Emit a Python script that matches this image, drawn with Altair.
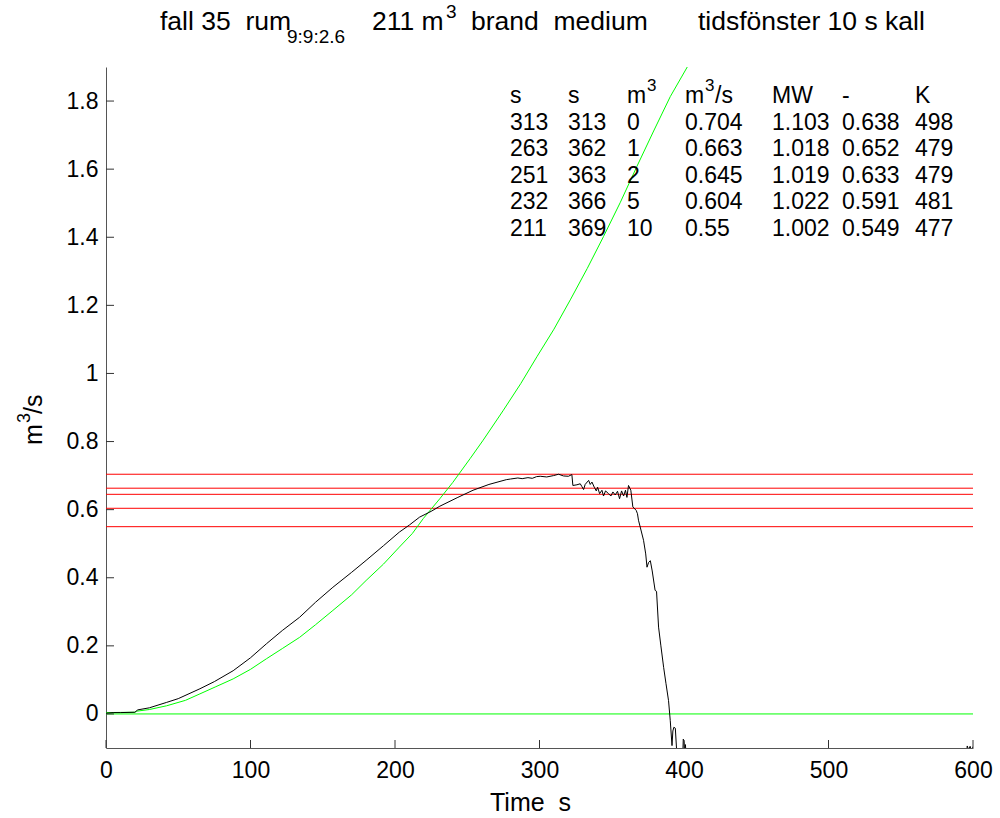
import altair as alt
import pandas as pd

# ---------------- data ----------------
black_t = [0, 5, 10, 20, 22, 30, 42, 50, 65, 75, 88, 100, 111, 122, 134, 145, 157, 170,
           180, 192, 203, 210, 217, 225, 231, 243, 254, 265, 277, 280, 285, 288, 292, 295,
           298, 300.5, 305, 309.7, 313.2, 316.6, 320, 322.4, 323.1, 325.9, 328.2, 329.3,
           330.5, 331.6, 334, 335.1, 336.3, 337.9, 339.3, 340.2, 341.6, 343.2, 344.3,
           345.7, 347.8, 349.4, 350.8, 352.4, 354, 355.4, 356.8, 358.2, 359.5, 360.5,
           361.6, 363.2, 364.6, 366.9, 367.8, 368.5, 369.7, 372, 373.5, 374.4, 375.5,
           376.7, 378, 380, 381, 382.4, 384, 385.9, 387.5, 389.3, 390.5, 391.7, 392.3,
           393, 394, 394.8, 395.5, 399, 399.5, 400, 400.5, 401, 401.5, 404, 405,
           500, 595.5, 596, 597, 598, 599, 600]
black_v = [0.002, 0.004, 0.004, 0.005, 0.012, 0.018, 0.034, 0.045, 0.074, 0.095, 0.127,
           0.165, 0.206, 0.245, 0.284, 0.328, 0.372, 0.416, 0.451, 0.494, 0.534, 0.555,
           0.578, 0.595, 0.610, 0.635, 0.657, 0.674, 0.688, 0.690, 0.693, 0.691, 0.694,
           0.692, 0.697, 0.698, 0.696, 0.700, 0.704, 0.699, 0.698, 0.703, 0.671, 0.673,
           0.676, 0.668, 0.659, 0.674, 0.686, 0.674, 0.681, 0.666, 0.655, 0.666, 0.647,
           0.657, 0.640, 0.655, 0.647, 0.640, 0.652, 0.643, 0.654, 0.632, 0.655, 0.640,
           0.657, 0.636, 0.671, 0.657, 0.608, 0.598, 0.588, 0.569, 0.549, 0.510, 0.470,
           0.431, 0.445, 0.450, 0.420, 0.363, 0.360, 0.255, 0.200, 0.137, 0.090, 0.039,
           -0.020, -0.093, -0.050, -0.039, -0.042, -0.100, -0.140, -0.140, -0.074,
           -0.080, -0.110, -0.090, -0.130, -0.102, -0.140,
           -0.150, -0.120, -0.094, -0.105, -0.095, -0.110, -0.096]

green_t = [0, 20, 21, 30, 42, 55, 65, 76, 88, 100, 111, 122, 134, 145, 157, 170, 180,
           192, 203, 212, 219.6, 231, 240, 252, 261, 275, 287, 298.2, 310, 321.3, 333,
           344.3, 356, 367.4, 379, 390.5, 403.2, 410]
green_v = [0.004, 0.005, 0.008, 0.013, 0.024, 0.040, 0.059, 0.080, 0.103, 0.131, 0.162,
           0.192, 0.225, 0.262, 0.304, 0.350, 0.392, 0.440, 0.490, 0.530, 0.574, 0.632,
           0.680, 0.750, 0.804, 0.892, 0.970, 1.049, 1.130, 1.216, 1.308, 1.402, 1.503,
           1.608, 1.712, 1.813, 1.907, 1.990]

zero_t = [0, 600]
zero_v = [0, 0]

red_levels = [0.704, 0.663, 0.645, 0.604, 0.55]

# table: header row uses "m" + superscript "3" drawn separately
col1 = ["s", "313", "263", "251", "232", "211"]
col2 = ["s", "313", "362", "363", "366", "369"]
col3 = ["m", "0", "1", "2", "5", "10"]
col4 = ["m", "0.704", "0.663", "0.645", "0.604", "0.55"]
col5 = ["MW", "1.103", "1.018", "1.019", "1.022", "1.002"]
col6 = ["-", "0.638", "0.652", "0.633", "0.591", "0.549"]
col7 = ["K", "498", "479", "479", "481", "477"]
header_sup = ["3", "3"]
header_tail = ["/s"]

x_ticks = [0, 100, 200, 300, 400, 500, 600]
y_ticks = [0, 0.2, 0.4, 0.6, 0.8, 1.0, 1.2, 1.4, 1.6, 1.8]

NB = "\u00a0"
title_big = ["fall 35" + NB + NB + "rum", "211 m", "brand" + NB + NB + "medium",
             "tidsfönster 10 s kall"]
title_small = ["9:9:2.6", "3"]
ylabel_big = ["m", "/s"]
ylabel_small = ["3"]

# ---------------- layout ----------------
L, T, W, H = 106, 67, 867, 681
XMIN, XMAX, YMIN, YMAX = 0, 600, -0.1, 1.9
FONT = "Liberation Sans"


def px_t(px):
    return (px - L) / W * (XMAX - XMIN) + XMIN


def py_v(py):
    return YMAX - (py - T) / H * (YMAX - YMIN)


xs = alt.Scale(domain=[XMIN, XMAX], nice=False, zero=False)
ys = alt.Scale(domain=[YMIN, YMAX], nice=False, zero=False)

X = alt.X("t:Q", scale=xs, title="Time" + NB + NB + "s",
          axis=alt.Axis(values=x_ticks, ticks=False, tickSize=0, grid=False,
                        labelPadding=11, titlePadding=8, format="d",
                        labelFlush=False, labelOverlap=False,
                        titleX=530 - L, titleAlign="center"))
Y = alt.Y("v:Q", scale=ys, title=None,
          axis=alt.Axis(values=y_ticks, ticks=False, tickSize=0, grid=False,
                        labelPadding=8, format="~g",
                        labelFlush=False, labelOverlap=False))

black_df = pd.DataFrame({"t": black_t, "v": black_v})
green_df = pd.DataFrame({"t": green_t, "v": green_v})
zero_df = pd.DataFrame({"t": zero_t, "v": zero_v})
red_df = pd.DataFrame({"t": [XMIN] * len(red_levels), "t2": [XMAX] * len(red_levels),
                       "v": red_levels})

black = alt.Chart(black_df).mark_line(color="black", strokeWidth=1, clip=True).encode(
    x=X, y=Y, order="t:Q")
green = alt.Chart(green_df).mark_line(color="#00ff00", strokeWidth=1, clip=True).encode(
    x=X, y=Y, order="t:Q")
zero = alt.Chart(zero_df).mark_line(color="#00ff00", strokeWidth=1).encode(x=X, y=Y)
red = alt.Chart(red_df).mark_rule(color="#ff0000", strokeWidth=1).encode(
    x=X, x2="t2:Q", y=Y)

xtick = alt.Chart(pd.DataFrame({"t": x_ticks})).mark_rule(color="#333333").encode(
    x=X, y=alt.value(H), y2=alt.value(H - 8))
ytick = alt.Chart(pd.DataFrame({"v": y_ticks})).mark_rule(color="#333333").encode(
    y=Y, x=alt.value(0), x2=alt.value(8))

# table of results
cols = [col1, col2, col3, col4, col5, col6, col7]
col_px = [510, 568, 627, 685, 772, 842, 915]
row_py = [103, 129.5, 156, 182.5, 209, 235.5]
rows = []
for ci, col in enumerate(cols):
    for ri, txt in enumerate(col):
        rows.append({"txt": txt, "t": px_t(col_px[ci]), "v": py_v(row_py[ri])})
table = alt.Chart(pd.DataFrame(rows)).mark_text(
    align="left", baseline="alphabetic", font=FONT, fontSize=23, color="black").encode(
    x=X, y=Y, text="txt:N")

sup_df = pd.DataFrame({"txt": header_sup, "t": [px_t(647), px_t(705)],
                       "v": [py_v(91), py_v(91)]})
sup = alt.Chart(sup_df).mark_text(
    align="left", baseline="alphabetic", font=FONT, fontSize=17, color="black").encode(
    x=X, y=Y, text="txt:N")
tail_df = pd.DataFrame({"txt": header_tail, "t": [px_t(715)], "v": [py_v(103)]})
tail = alt.Chart(tail_df).mark_text(
    align="left", baseline="alphabetic", font=FONT, fontSize=23, color="black").encode(
    x=X, y=Y, text="txt:N")

# title (with subscript / superscript pieces)
big_px = [160, 372, 471, 698]
big_py = [30, 30, 30, 30]
small_px = [287, 446]
small_py = [43, 18]
tb = pd.DataFrame({"txt": title_big, "t": [px_t(p) for p in big_px],
                   "v": [py_v(p) for p in big_py]})
ts = pd.DataFrame({"txt": title_small, "t": [px_t(p) for p in small_px],
                   "v": [py_v(p) for p in small_py]})
title1 = alt.Chart(tb).mark_text(align="left", baseline="alphabetic", font=FONT,
                                 fontSize=26.5, color="black").encode(x=X, y=Y, text="txt:N")
title2 = alt.Chart(ts).mark_text(align="left", baseline="alphabetic", font=FONT,
                                 fontSize=19, color="black").encode(x=X, y=Y, text="txt:N")

# rotated y-axis label  m^3/s
yb = pd.DataFrame({"txt": ylabel_big, "t": [px_t(42), px_t(42)],
                   "v": [py_v(445), py_v(414)]})
ysm = pd.DataFrame({"txt": ylabel_small, "t": [px_t(30)], "v": [py_v(423)]})
ylab1 = alt.Chart(yb).mark_text(align="left", baseline="alphabetic", font=FONT,
                                fontSize=25, angle=270, color="black").encode(
    x=X, y=Y, text="txt:N")
ylab2 = alt.Chart(ysm).mark_text(align="left", baseline="alphabetic", font=FONT,
                                 fontSize=18, angle=270, color="black").encode(
    x=X, y=Y, text="txt:N")

chart = alt.layer(red, zero, green, black, xtick, ytick, table, sup, tail,
                  title1, title2, ylab1, ylab2).properties(
    width=W, height=H,
    autosize=alt.AutoSizeParams(type="none"),
    padding={"left": L, "top": T, "right": 1000 - L - W, "bottom": 818 - T - H},
).configure_view(stroke=None).configure_axis(
    labelFont=FONT, titleFont=FONT, labelFontSize=23, titleFontSize=25,
    labelColor="black", titleColor="black", titleFontWeight="normal",
    domainColor="#555555", domainWidth=1,
)

chart.save("out.html", embed_options={"renderer": "svg", "actions": False})
